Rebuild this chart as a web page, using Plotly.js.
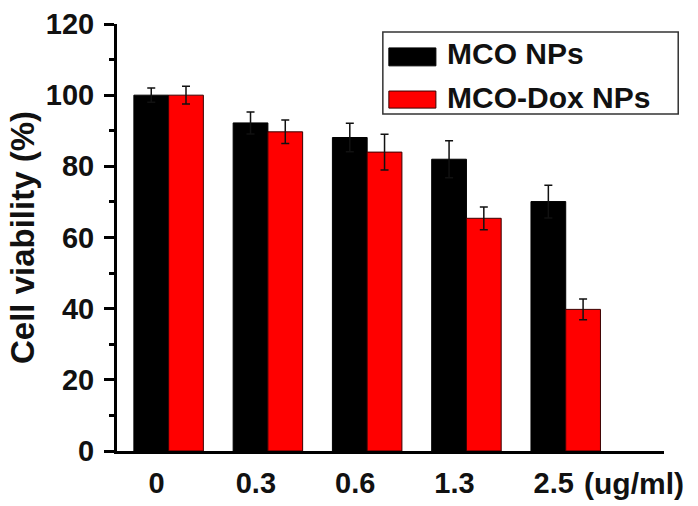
<!DOCTYPE html>
<html><head><meta charset="utf-8">
<script src="https://cdn.plot.ly/plotly-3.0.1.min.js"></script>
<style>html,body{margin:0;padding:0;background:#fff;}#chart{width:698px;height:506px;}</style>
</head><body><div id="chart"></div>
<script>
const categories = ["0", "0.3", "0.6", "1.3", "2.5"];
const unitLabel = "(ug/ml)";
const seriesNames = ["MCO NPs", "MCO-Dox NPs"];
const mcoValues = [100, 92.2, 88.1, 82.0, 70.1];
const mcoErrors = [2.0, 3.1, 4.0, 5.2, 4.6];
const doxValues = [100, 89.7, 84.0, 65.4, 39.8];
const doxErrors = [2.5, 3.3, 5.0, 3.2, 2.9];
const yTicks = [0, 20, 40, 60, 80, 100, 120];

const FONT = "Liberation Sans, Arial, sans-serif";
const xIdx = categories.map((c, i) => i);

const traces = [
  {type: "bar", name: seriesNames[0], x: xIdx, y: mcoValues,
   marker: {color: "#000000", line: {color: "#000000", width: 1}},
   error_y: {type: "data", array: mcoErrors, visible: true, color: "#111", thickness: 1.5, width: 4},
   showlegend: false},
  {type: "bar", name: seriesNames[1], x: xIdx, y: doxValues,
   marker: {color: "#ff0000", line: {color: "#3a0000", width: 1}},
   error_y: {type: "data", array: doxErrors, visible: true, color: "#111", thickness: 1.5, width: 4},
   showlegend: false}
];

const layout = {
  width: 698, height: 506,
  margin: {l: 117, r: 34, t: 24, b: 55},
  paper_bgcolor: "#fff", plot_bgcolor: "#fff",
  barmode: "group", bargap: 0.30, bargroupgap: 0,
  font: {family: FONT, color: "#000"},
  showlegend: false,
  xaxis: {
    range: [-0.52, 4.99], tickmode: "array", tickvals: xIdx, ticktext: categories,
    showline: true, linecolor: "#000", linewidth: 3, ticks: "", showgrid: false, zeroline: false,
    tickfont: {family: FONT, size: 29, color: "#111", weight: "bold"},
    ticklabelstandoff: 4, ticklabelshift: -12
  },
  yaxis: {
    range: [0, 120], tickmode: "array", tickvals: yTicks,
    showline: true, linecolor: "#000", linewidth: 3, ticks: "outside", ticklen: 10, tickwidth: 3, tickcolor: "#000",
    minor: {dtick: 10, ticks: "outside", ticklen: 5, tickwidth: 3, tickcolor: "#000", showgrid: false},
    showgrid: false, zeroline: false,
    tickfont: {family: FONT, size: 29, color: "#111", weight: "bold"},
    ticklabelstandoff: 4,
    title: {text: "Cell viability (%)", font: {family: FONT, size: 33, color: "#111", weight: "bold"}, standoff: 2}
  },
  shapes: [
    {type: "rect", xref: "paper", yref: "paper", x0: 0.486, x1: 1.026, y0: 0.789, y1: 0.981,
     line: {color: "#333", width: 1.5}, fillcolor: "#fff"},
    {type: "rect", xref: "paper", yref: "paper", x0: 0.497, x1: 0.583, y0: 0.902, y1: 0.944,
     line: {color: "#000", width: 1}, fillcolor: "#000"},
    {type: "rect", xref: "paper", yref: "paper", x0: 0.497, x1: 0.583, y0: 0.803, y1: 0.843,
     line: {color: "#3a0000", width: 1}, fillcolor: "#ff0000"}
  ],
  annotations: [
    {xref: "paper", yref: "paper", x: 0.600, y: 0.930, xanchor: "left", yanchor: "middle", showarrow: false,
     text: "<b>" + seriesNames[0] + "</b>", font: {family: FONT, size: 30, color: "#111"}},
    {xref: "paper", yref: "paper", x: 0.600, y: 0.828, xanchor: "left", yanchor: "middle", showarrow: false,
     text: "<b>" + seriesNames[1] + "</b>", font: {family: FONT, size: 30, color: "#111"}},
    {xref: "x", yref: "paper", x: 4.69, y: -0.075, xanchor: "center", yanchor: "middle", showarrow: false,
     text: "<b>" + unitLabel + "</b>", font: {family: FONT, size: 30, color: "#111"}}
  ]
};

Plotly.newPlot("chart", traces, layout, {displayModeBar: false, staticPlot: true});
</script>
</body></html>
